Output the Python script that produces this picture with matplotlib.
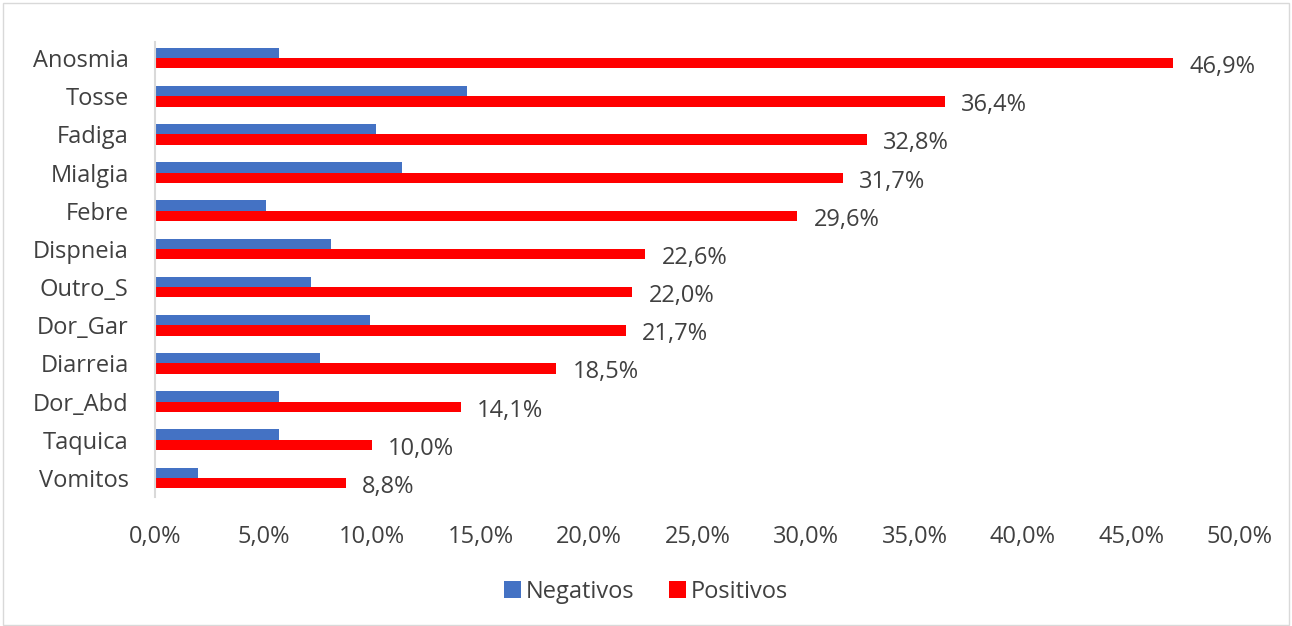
import matplotlib
matplotlib.use("Agg")
import matplotlib.pyplot as plt
from matplotlib.patches import Rectangle
import numpy as np

categories = ["Anosmia", "Tosse", "Fadiga", "Mialgia", "Febre", "Dispneia", "Outro_S",
              "Dor_Gar", "Diarreia", "Dor_Abd", "Taquica", "Vomitos"]
negativos = [5.7, 14.4, 10.2, 11.4, 5.1, 8.1, 7.2, 9.9, 7.6, 5.7, 5.7, 2.0]
positivos = [46.9, 36.4, 32.8, 31.7, 29.6, 22.6, 22.0, 21.7, 18.5, 14.1, 10.0, 8.8]
xticks = [0, 5, 10, 15, 20, 25, 30, 35, 40, 45, 50]

plt.rcParams['font.family'] = ['Open Sans', 'DejaVu Sans']
txt = "#404040"
fs = 17

fig = plt.figure(figsize=(12.92, 6.26), dpi=100)
fig.patches.append(Rectangle((0.002, 0.002), 0.996, 0.994, transform=fig.transFigure,
                             fill=False, edgecolor="#d9d9d9", linewidth=1))
ax = fig.add_axes([155/1292, 1 - 497/626, (1240-155)/1292, (497-42)/626])

y = np.arange(len(categories))
h = 0.27
ax.barh(y - h/2, negativos, height=h, color="#4472C4", label="Negativos")
ax.barh(y + h/2, positivos, height=h, color="#FF0000", label="Positivos")

for yi, v in zip(y, positivos):
    ax.text(v + 0.75, yi + h/2 + 0.1, f"{v:.1f}%".replace(".", ","), va="center", ha="left",
            fontsize=fs, color=txt)

ax.set_xlim(0, 50)
ax.set_ylim(11.5, -0.42)
ax.set_yticks(y)
ax.set_yticklabels(categories, fontsize=fs, color=txt)
ax.set_xticks(xticks)
ax.set_xticklabels([f"{t:.1f}%".replace(".", ",") for t in xticks], fontsize=fs, color=txt)
ax.tick_params(axis="both", length=0)
ax.tick_params(axis="x", pad=20)
ax.tick_params(axis="y", pad=19)
for s in ["top", "right", "bottom"]:
    ax.spines[s].set_visible(False)
ax.spines["left"].set_color("#d9d9d9")
ax.spines["left"].set_linewidth(1.5)

leg = fig.legend(loc="center", bbox_to_anchor=(0.5, 1 - 592/626), ncol=2, frameon=False,
                 fontsize=fs, handlelength=0.7, handleheight=0.75, handletextpad=0.2,
                 columnspacing=1.5)
for t in leg.get_texts():
    t.set_color(txt)

fig.savefig("out.png", dpi=100)
